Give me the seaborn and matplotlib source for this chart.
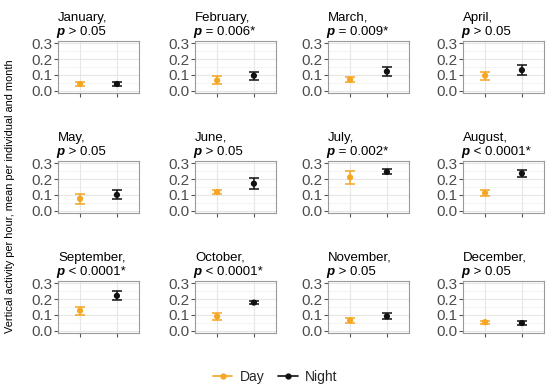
import matplotlib
matplotlib.use('Agg')
import matplotlib.pyplot as plt
from matplotlib.lines import Line2D
from matplotlib.ticker import MultipleLocator
import seaborn as sns
import pandas as pd

# Data
months = ['January', 'February', 'March', 'April', 'May', 'June',
          'July', 'August', 'September', 'October', 'November', 'December']
p_op = ['>', '=', '=', '>', '>', '>', '=', '<', '<', '<', '>', '>']
p_val = ['0.05', '0.006*', '0.009*', '0.05', '0.05', '0.05',
         '0.002*', '0.0001*', '0.0001*', '0.0001*', '0.05', '0.05']

day_mean = [0.042, 0.065, 0.070, 0.095, 0.075, 0.118, 0.211, 0.112, 0.127, 0.090, 0.065, 0.054]
day_lo   = [0.030, 0.045, 0.052, 0.070, 0.045, 0.103, 0.170, 0.092, 0.102, 0.067, 0.050, 0.043]
day_hi   = [0.054, 0.090, 0.088, 0.120, 0.105, 0.131, 0.251, 0.132, 0.152, 0.113, 0.080, 0.064]
night_mean = [0.042, 0.095, 0.121, 0.130, 0.100, 0.171, 0.246, 0.236, 0.221, 0.178, 0.091, 0.048]
night_lo   = [0.030, 0.070, 0.091, 0.097, 0.072, 0.135, 0.230, 0.214, 0.192, 0.166, 0.071, 0.038]
night_hi   = [0.053, 0.121, 0.152, 0.163, 0.131, 0.205, 0.262, 0.255, 0.252, 0.190, 0.112, 0.060]

periods = ['Day', 'Night']
palette = {'Day': '#F5A623', 'Night': '#111111'}

rows = []
for i, m in enumerate(months):
    rows.append(dict(month=m, period='Day', mean=day_mean[i], lo=day_lo[i], hi=day_hi[i]))
    rows.append(dict(month=m, period='Night', mean=night_mean[i], lo=night_lo[i], hi=night_hi[i]))
df = pd.DataFrame(rows)

sns.set_theme(style='white')
plt.rcParams['font.family'] = ['Liberation Sans', 'DejaVu Sans']

W, H = 550, 389
fig = plt.figure(figsize=(5.5, 3.89), dpi=100)

lefts = [58, 195, 328, 463]
tops = [41, 161, 281]
aw, ah = 81, 52

for i, m in enumerate(months):
    r, c = divmod(i, 4)
    ax = fig.add_axes([lefts[c] / W, 1 - (tops[r] + ah) / H, aw / W, ah / H])
    sub = df[df['month'] == m]
    for j, per in enumerate(periods):
        row = sub[sub['period'] == per].iloc[0]
        ax.errorbar([j], [row['mean']],
                    yerr=[[row['mean'] - row['lo']], [row['hi'] - row['mean']]],
                    fmt='none', ecolor=palette[per], elinewidth=1.1, capsize=3.5,
                    capthick=1.1, zorder=3)
    sns.scatterplot(data=sub, x='period', y='mean', hue='period', palette=palette,
                    s=20, edgecolor='none', legend=False, ax=ax, zorder=4)
    ax.set_xlim(-0.6, 1.6)
    ax.set_ylim(-0.015, 0.315)
    ax.yaxis.set_minor_locator(MultipleLocator(0.05))
    ax.set_yticks([0.0, 0.1, 0.2, 0.3])
    ax.set_yticklabels(['0.0', '0.1', '0.2', '0.3'])
    ax.set_xticks([0, 1])
    ax.set_xticklabels(['', ''])
    ax.set_xlabel('')
    ax.set_ylabel('')
    ax.grid(True, which='major', color='#e6e6e6', linewidth=0.8)
    ax.grid(True, which='minor', axis='y', color='#f0f0f0', linewidth=0.5)
    ax.set_axisbelow(True)
    for sp in ax.spines.values():
        sp.set_color('#9a9a9a')
        sp.set_linewidth(0.8)
    ax.tick_params(axis='both', which='major', length=3, width=0.8, color='#555555',
                   labelsize=11, labelcolor='#4d4d4d', pad=1, left=True, bottom=True)
    ax.tick_params(axis='y', which='minor', length=0)

    # two-line title: month, then bold italic p with the test result
    ax.annotate(m + ',', xy=(0, 1), xycoords='axes fraction', xytext=(0, 12.5),
                textcoords='offset points', ha='left', va='bottom', fontsize=9.5,
                color='black')
    ax.annotate('p', xy=(0, 1), xycoords='axes fraction', xytext=(-1, 2.5),
                textcoords='offset points', ha='left', va='bottom', fontsize=9.5,
                style='italic', weight='bold', color='black')
    ax.annotate(f' {p_op[i]} {p_val[i]}', xy=(0, 1), xycoords='axes fraction',
                xytext=(5, 2.5), textcoords='offset points', ha='left', va='bottom',
                fontsize=9.5, color='black')

fig.text(10 / W, 1 - 196 / H, 'Vertical activity per hour, mean per individual and month',
         rotation=90, ha='center', va='center', fontsize=7.9, color='black')

handles = [Line2D([0], [0], color=palette[p], marker='o', markersize=3.5, linewidth=1.2)
           for p in periods]
fig.legend(handles, periods, loc='center', bbox_to_anchor=(0.5, 1 - 377 / H), ncol=2,
           frameon=False, fontsize=10, handlelength=1.4, handletextpad=0.5,
           columnspacing=1.0)

fig.savefig('out.png', dpi=100)
